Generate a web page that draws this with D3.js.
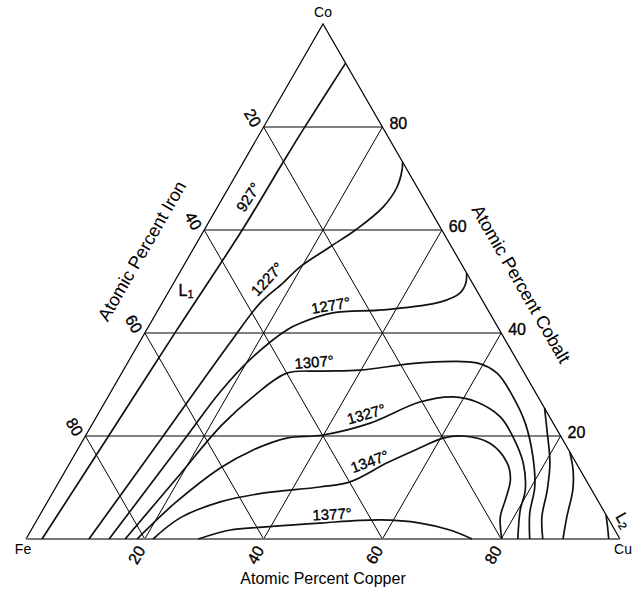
<!DOCTYPE html>
<html>
<head>
<meta charset="utf-8">
<script src="https://cdn.jsdelivr.net/npm/d3@7/dist/d3.min.js"></script>
<style>
  body { margin: 0; background: #fff; }
  text { font-family: Arial, "Liberation Sans", sans-serif; fill: #000; }
  .num { stroke: #000; stroke-width: 0.35px; }
</style>
</head>
<body>
<div id="chart"></div>
<script>
// every composition is [Cu, Co] in atomic percent, Fe is what is left
var gridSteps = [20, 40, 60, 80];

var iso927  = [[2.7,0],[3.9,20],[5.1,40.6],[6.4,60],[6.7,73.2],[6.9,79.4],[7.6,92.4]];
var iso1227 = [[10.6,0],[13.1,20],[15.3,38.1],[16.5,45.8],[18.4,49.7],[19.7,52.8],[22.8,56.7],
               [25.6,60.2],[27.9,64.5],[28.3,68.3],[27.5,71.6],[26.8,73.2]];
var iso1277 = [[14,0],[17.1,20],[18.4,28.5],[20.5,35.3],[23.6,40.6],[25.2,41.9],[29.7,43.9],
               [37.9,44.5],[46.7,46],[49.2,47.8],[49.2,49.7],[48.35,51.65]];
var iso1307 = [[16.7,0],[19.4,11.5],[21.9,22.1],[24.4,27.6],[27.8,32.2],[33.2,32.6],[39.8,32.8],
               [49.2,34.2],[58.8,34.2],[63.2,32.2],[68.2,27.6],[72.8,22.5],[77.4,15.9],
               [80.6,10.1],[82.3,5],[84.8,0]];
var iso1327 = [[18.7,0],[21.6,7],[25.8,13.8],[29.6,17.3],[34.1,19.6],[39.9,20.2],[46.7,22.5],
               [53,26.6],[58.1,27.6],[62.6,26.6],[68,23.7],[72.1,19.8],[76.3,14.8],[79.3,9.5],
               [80.4,5.6],[82.8,0]];
var iso1347 = [[21.4,0],[23.9,4.1],[29.1,7.2],[35.4,8.9],[44.4,10.1],[49,11.1],[53.4,14.8],
               [57.5,17.7],[60.4,19.6],[63.6,20],[68.8,18.6],[73.6,14.8],[75.8,11.5],[76.9,7.6],
               [77.7,4.3],[80.1,0]];
var iso1377 = [[29,0],[33.5,1.75],[38.7,2.3],[47.9,3.1],[57.8,3.7],[64.8,3.1],[70.5,1.75],[75.1,0]];
var curveA  = [[74.6,25.4],[77.1,21.2],[80.8,14.8],[83,9.5],[84.7,4.3],[87,0]];
var curveB  = [[83.1,16.9],[85.4,13.4],[87.3,9.5],[88.9,4.3],[90.4,0]];
var curveL2 = [[95.3,4.7],[96.7,2.4],[98.1,0]];

var isoNames  = ["927°", "1227°", "1277°", "1307°", "1327°", "1347°", "1377°"];
var isoAt     = [[4.2,66.4],[15.3,50.5],[28.6,45.4],[31.3,34.4],[45.1,24.3],[50.3,15.1],[49.1,4.85]];
var isoAngle  = [-57, -47, -10, -5, -16, -20, -3];

var width = 641, height = 595;

var x = d3.scaleLinear().domain([0, 100]).range([26, 620]);
var y = d3.scaleLinear().domain([0, 100]).range([539, 24]);

function px(c) { return [x(c[0] + c[1] / 2), y(c[1])]; }

var svg = d3.select("#chart").append("svg")
    .attr("width", width)
    .attr("height", height);

// grid: constant Co, constant Cu, constant Fe
var gridLines = [];
gridSteps.forEach(function(v) {
    gridLines.push([[0, v], [100 - v, v]]);
    gridLines.push([[v, 0], [v, 100 - v]]);
    gridLines.push([[100 - v, 0], [0, 100 - v]]);
});

var line = d3.line();
var smooth = d3.line().curve(d3.curveCatmullRom.alpha(0.5));

svg.append("g")
    .selectAll("path")
    .data(gridLines)
    .join("path")
    .attr("d", d => line(d.map(px)))
    .attr("fill", "none")
    .attr("stroke", "#000")
    .attr("stroke-width", 1);

// sides of the triangle
svg.append("path")
    .attr("d", line([[0, 0], [0, 100], [100, 0]].map(px)))
    .attr("fill", "none")
    .attr("stroke", "#000")
    .attr("stroke-width", 1.2);

svg.append("path")
    .attr("d", line([[0, 0], [100, 0]].map(px)))
    .attr("stroke", "#777")
    .attr("stroke-width", 2);

// isotherms and the other boundaries
var curves = [iso927, iso1227, iso1277, iso1307, iso1327, iso1347, iso1377, curveA, curveB, curveL2];

svg.append("g")
    .selectAll("path")
    .data(curves)
    .join("path")
    .attr("d", d => smooth(d.map(px)))
    .attr("fill", "none")
    .attr("stroke", "#111")
    .attr("stroke-width", 1.7);

// isotherm labels
svg.append("g")
    .selectAll("text")
    .data(isoNames)
    .join("text")
    .attr("class", "num")
    .attr("transform", (d, i) => {
        var p = px(isoAt[i]);
        return `translate(${p[0]},${p[1]}) rotate(${isoAngle[i]})`;
    })
    .attr("text-anchor", "middle")
    .attr("dominant-baseline", "central")
    .style("font-size", "15px")
    .text(d => d);

// phase labels
var l1 = px([2.8, 48.3]);
var t1 = svg.append("text")
    .attr("class", "num")
    .attr("transform", `translate(${l1[0]},${l1[1]})`)
    .attr("text-anchor", "middle")
    .attr("dominant-baseline", "central")
    .style("font-size", "16px");
t1.append("tspan").text("L");
t1.append("tspan").attr("dy", 4).style("font-size", "11px").text("1");

var l2 = px([98.8, 3.7]);
var t2 = svg.append("text")
    .attr("class", "num")
    .attr("transform", `translate(${l2[0]},${l2[1]}) rotate(60)`)
    .attr("text-anchor", "middle")
    .attr("dominant-baseline", "central")
    .style("font-size", "16px");
t2.append("tspan").text("L");
t2.append("tspan").attr("dy", 4).style("font-size", "11px").text("2");

// tick labels
var ticks = svg.append("g").attr("class", "num").style("font-size", "16px");

ticks.selectAll(".cu")
    .data(gridSteps)
    .join("text")
    .attr("class", "cu")
    .attr("transform", d => {
        var p = px([d, 0]);
        return `translate(${p[0] - 8},${p[1] + 16}) rotate(-60)`;
    })
    .attr("text-anchor", "middle")
    .attr("dominant-baseline", "central")
    .text(d => d);

ticks.selectAll(".fe")
    .data(gridSteps)
    .join("text")
    .attr("class", "fe")
    .attr("transform", d => {
        var p = px([0, 100 - d]);
        return `translate(${p[0] - 11},${p[1] - 9}) rotate(60)`;
    })
    .attr("text-anchor", "middle")
    .attr("dominant-baseline", "central")
    .text(d => d);

ticks.selectAll(".co")
    .data(gridSteps)
    .join("text")
    .attr("class", "co")
    .attr("x", d => px([100 - d, d])[0] + 7)
    .attr("y", d => px([100 - d, d])[1] - 4)
    .attr("dominant-baseline", "central")
    .text(d => d);

// corners
var corners = [["Fe", [0, 0], -3, 10], ["Cu", [100, 0], 3, 10], ["Co", [0, 100], 0, -12]];
svg.append("g")
    .selectAll("text")
    .data(corners)
    .join("text")
    .attr("x", d => px(d[1])[0] + d[2])
    .attr("y", d => px(d[1])[1] + d[3])
    .attr("text-anchor", "middle")
    .attr("dominant-baseline", "central")
    .style("font-size", "14px")
    .text(d => d[0]);

// axis titles
svg.append("text")
    .attr("x", x(50))
    .attr("y", 578)
    .attr("text-anchor", "middle")
    .attr("dominant-baseline", "central")
    .style("font-size", "16px")
    .text("Atomic Percent Copper");

svg.append("text")
    .attr("transform", "translate(142,251) rotate(-60)")
    .attr("text-anchor", "middle")
    .attr("dominant-baseline", "central")
    .style("font-size", "18px")
    .text("Atomic Percent Iron");

svg.append("text")
    .attr("transform", "translate(521,284) rotate(60)")
    .attr("text-anchor", "middle")
    .attr("dominant-baseline", "central")
    .style("font-size", "18px")
    .text("Atomic Percent Cobalt");
</script>
</body>
</html>
